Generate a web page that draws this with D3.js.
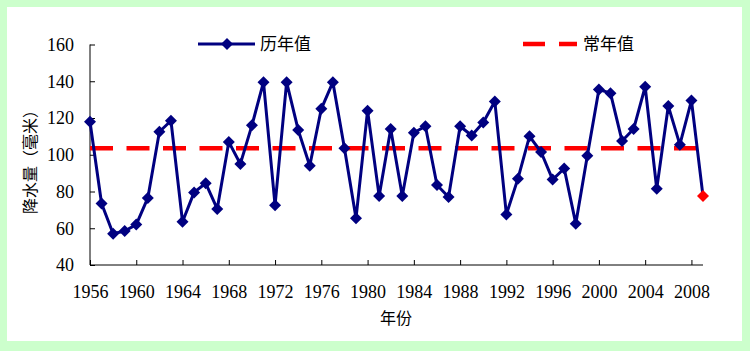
<html>
<head>
  <meta charset="utf-8">
  <script src="https://d3js.org/d3.v7.min.js"></script>
  <style>
    body { margin: 0; }
    .tick text { font-family: "Liberation Serif", serif; font-size: 18px; fill: #000; }
    .cjk { font-family: "Noto Sans CJK SC", sans-serif; font-size: 16px; fill: #000; }
  </style>
  <script>
    var years = d3.range(1956, 2010);
    var rain = [118, 73.5, 57, 58.5, 62, 76.5, 112.5, 118.5, 63.5, 79.5,
                84.5, 70.5, 107, 95, 116, 139.5, 72.5, 139.5, 113.5, 94,
                125, 139.5, 103.5, 65.5, 124, 77.5, 114, 77.5, 112, 115.5,
                83.5, 77, 115.5, 110.5, 117.5, 129, 67.5, 87, 110, 101.5,
                86.5, 92.5, 62.5, 99.5, 135.5, 133.5, 107.5, 114, 137, 81.5,
                126.5, 105.5, 129.5, 77.5];
    var normal = 103.5;
    var xTicks = [1956, 1960, 1964, 1968, 1972, 1976, 1980, 1984, 1988, 1992, 1996, 2000, 2004, 2008];
    var yTicks = [40, 60, 80, 100, 120, 140, 160];
    var seriesNames = ["历年值", "常年值"];

    function makeGraph() {
        var svg = d3.select("#graph");
        svg.append("rect").attr("width", 750).attr("height", 351).attr("fill", "#ccffcc");
        svg.append("rect").attr("x", 7).attr("y", 7).attr("width", 735).attr("height", 334).attr("fill", "#fff");

        var x = d3.scaleLinear().domain([1956, 2009]).range([90, 703]);
        var y = d3.scaleLinear().domain([40, 160]).range([265, 44.5]);

        // axes, ticks pointing inward
        svg.append("g").attr("transform", "translate(90,0)")
            .call(d3.axisLeft(y).tickValues(yTicks).tickSize(-5).tickPadding(16))
            .call(g => g.select(".domain").attr("d", "M0," + y(160) + "V" + y(40)));
        svg.append("g").attr("transform", "translate(0,265)")
            .call(d3.axisBottom(x).tickValues(xTicks).tickFormat(d3.format("d")).tickSize(-5).tickPadding(20))
            .call(g => g.select(".domain").attr("d", "M90,0H703"));

        // normal value dashed line
        svg.append("path")
            .attr("d", d3.line()([[x(1956), y(normal)], [x(2009), y(normal)]]))
            .attr("stroke", "#ff0000").attr("stroke-width", 4.5)
            .attr("stroke-dasharray", "23,13.5").attr("fill", "none");

        // annual series
        svg.append("path")
            .attr("d", d3.line().x((d, i) => x(years[i])).y(d => y(d))(rain))
            .attr("stroke", "#000080").attr("stroke-width", 3).attr("fill", "none")
            .attr("stroke-linejoin", "round");

        var diamond = d3.symbol().type(d3.symbolSquare).size(72);
        svg.append("g").selectAll("path").data(rain).join("path")
            .attr("d", diamond)
            .attr("transform", (d, i) => "translate(" + x(years[i]) + "," + y(d) + ") rotate(45)")
            .attr("fill", (d, i) => i === rain.length - 1 ? "#ff0000" : "#000080");

        // legend
        svg.append("path").attr("d", "M198,44H255").attr("stroke", "#000080").attr("stroke-width", 3);
        svg.append("path").attr("d", diamond).attr("transform", "translate(227,44) rotate(45)").attr("fill", "#000080");
        svg.append("text").attr("class", "cjk").attr("x", 260).attr("y", 44).attr("dy", "0.35em")
            .style("font-size", "17px").text(seriesNames[0]);
        svg.append("path").attr("d", "M523,44H577").attr("stroke", "#ff0000").attr("stroke-width", 4.5)
            .attr("stroke-dasharray", "22,14");
        svg.append("text").attr("class", "cjk").attr("x", 583).attr("y", 44).attr("dy", "0.35em")
            .style("font-size", "17px").text(seriesNames[1]);

        // axis titles
        svg.append("text").attr("class", "cjk").attr("text-anchor", "middle")
            .attr("transform", "translate(30,158) rotate(-90)").attr("dy", "0.35em").text("降水量（毫米）");
        svg.append("text").attr("class", "cjk").attr("text-anchor", "middle")
            .attr("x", 396).attr("y", 318).attr("dy", "0.35em").text("年份");
    }
  </script>
</head>
<body onload="makeGraph()">
  <svg id="graph" width="750" height="351"></svg>
</body>
</html>
